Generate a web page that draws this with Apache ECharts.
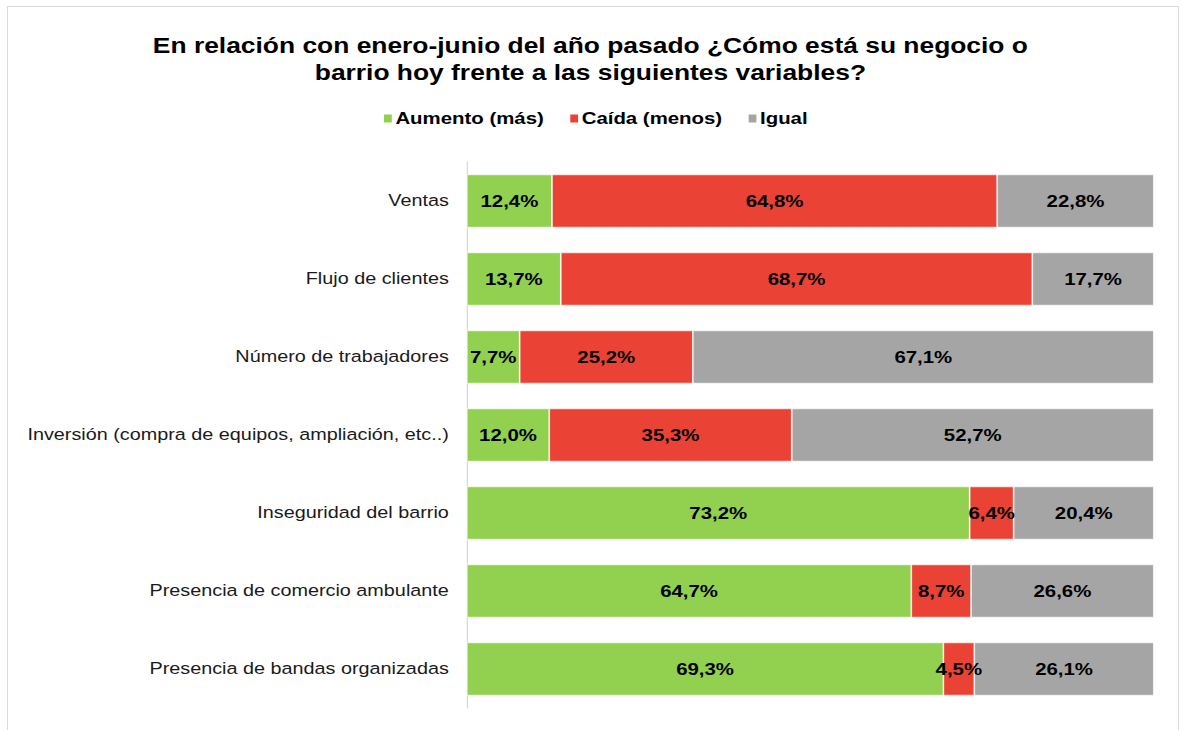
<!DOCTYPE html>
<html>
<head>
<meta charset="utf-8">
<script src="https://cdn.jsdelivr.net/npm/echarts@6/dist/echarts.min.js"></script>
<style>
  html, body { margin: 0; padding: 0; background: #fff; overflow: hidden; }
  #frame { position: absolute; left: 7px; top: 6px; width: 1170px; height: 740px; border: 1px solid #d9d9d9; }
  /* the original picture is stretched sideways, so the chart is drawn narrower and widened */
  #main { position: absolute; left: 0; top: 0; width: 984px; height: 730px; transform-origin: 0 0; transform: scaleX(1.2); }
</style>
</head>
<body>
<div id="frame"></div>
<div id="main"></div>
<script>
var categories = [
    'Ventas',
    'Flujo de clientes',
    'Número de trabajadores',
    'Inversión (compra de equipos, ampliación, etc..)',
    'Inseguridad del barrio',
    'Presencia de comercio ambulante',
    'Presencia de bandas organizadas'
];
var aumento = [12.4, 13.7, 7.7, 12.0, 73.2, 64.7, 69.3];
var caida = [64.8, 68.7, 25.2, 35.3, 6.4, 8.7, 4.5];
var igual = [22.8, 17.7, 67.1, 52.7, 20.4, 26.6, 26.1];

// 100% stacked: each row scaled to its own total, label keeps the printed value
function shares(values) {
    return values.map(function (v, i) {
        var total = aumento[i] + caida[i] + igual[i];
        return { value: v / total * 100, raw: v };
    });
}

function makeSeries(name, values, color) {
    return {
        name: name,
        type: 'bar',
        stack: 'total',
        barCategoryGap: '32%',
        itemStyle: { color: color, borderColor: '#ffffff', borderWidth: 0.6 },
        label: {
            show: true,
            position: 'inside',
            color: '#000',
            fontWeight: 'bold',
            fontSize: 17,
            fontFamily: 'Liberation Sans',
            formatter: function (p) {
                return p.data.raw.toFixed(1).replace('.', ',') + '%';
            }
        },
        data: shares(values)
    };
}

var myChart = echarts.init(document.getElementById('main'), null, { renderer: 'svg' });
myChart.setOption({
    backgroundColor: 'transparent',
    animation: false,
    title: {
        text: 'En relación con enero-junio del año pasado ¿Cómo está su negocio o\nbarrio hoy frente a las siguientes variables?',
        left: 'center',
        top: 27,
        textStyle: {
            fontFamily: 'Liberation Sans',
            fontWeight: 'bold',
            fontSize: 22,
            lineHeight: 27,
            color: '#000'
        }
    },
    legend: {
        top: 105,
        left: 313,
        itemWidth: 8.5,
        itemHeight: 10,
        itemGap: 20,
        icon: 'rect',
        textStyle: {
            fontFamily: 'Liberation Sans',
            fontWeight: 'bold',
            fontSize: 17,
            color: '#000',
            padding: [0, 0, 0, -3]
        },
        data: ['Aumento (más)', 'Caída (menos)', 'Igual']
    },
    grid: {
        left: 389,
        right: 22.5,
        top: 162,
        bottom: 22,
        containLabel: false
    },
    xAxis: {
        type: 'value',
        min: 0,
        max: 100,
        show: false
    },
    yAxis: {
        type: 'category',
        inverse: true,
        data: categories,
        axisLine: { show: true, lineStyle: { color: '#d9d9d9', width: 1 } },
        axisTick: { show: false },
        axisLabel: {
            margin: 15,
            fontFamily: 'Liberation Sans',
            fontSize: 16.5,
            color: '#1a1a1a'
        }
    },
    series: [
        makeSeries('Aumento (más)', aumento, '#92d050'),
        makeSeries('Caída (menos)', caida, '#ea4335'),
        makeSeries('Igual', igual, '#a5a5a5')
    ]
});
</script>
</body>
</html>
